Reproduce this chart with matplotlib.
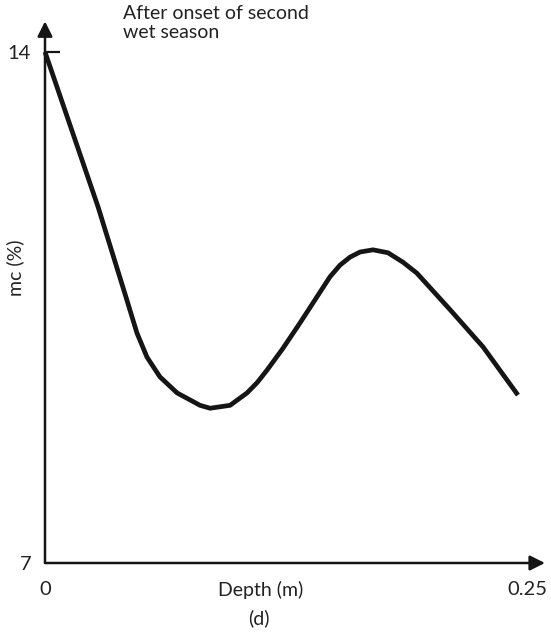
import matplotlib.pyplot as plt

# moisture content profile after onset of second wet season
depth = [0.0, 0.0275, 0.0425, 0.0477, 0.0529, 0.0596, 0.0685, 0.0804,
         0.0856, 0.0960, 0.1048, 0.1100, 0.1151, 0.1234, 0.1323, 0.1478,
         0.1530, 0.1582, 0.1634, 0.1701, 0.1779, 0.1857, 0.1929, 0.2101,
         0.2272, 0.2453]
mc = [14.0, 11.88, 10.60, 10.15, 9.82, 9.55, 9.33, 9.16,
      9.12, 9.16, 9.33, 9.47, 9.64, 9.94, 10.29, 10.92,
      11.08, 11.19, 11.26, 11.29, 11.25, 11.12, 10.97, 10.47,
      9.96, 9.30]

x_ticks = [0, 0.25]
x_labels = ['0', '0.25']
y_ticks = [7, 14]
y_labels = ['7', '14']

plt.rcParams['font.family'] = ['Lato', 'DejaVu Sans']

W, H = 551, 636
fig = plt.figure(figsize=(W / 100, H / 100), dpi=100)
ax = fig.add_axes([45 / W, (H - 563) / H, (527 - 45) / W, (563 - 52) / H])

ax.plot(depth, mc, color='#151515', lw=3.4, solid_capstyle='butt',
        solid_joinstyle='round', clip_on=False)

ax.set_xlim(0, 0.25)
ax.set_ylim(7, 14)
for s in ax.spines.values():
    s.set_visible(False)

# axis lines with arrow heads
arrow = dict(arrowstyle='-|>,head_length=0.9,head_width=0.45', color='#151515',
             lw=1.8, shrinkA=0, shrinkB=0)
ax.annotate('', xy=(0.2593, 7), xytext=(0, 7), xycoords='data',
            arrowprops=arrow, annotation_clip=False)
ax.annotate('', xy=(0, 14.42), xytext=(0, 7), xycoords='data',
            arrowprops=arrow, annotation_clip=False)

ax.set_xticks(x_ticks)
ax.set_xticklabels(x_labels)
ax.set_yticks(y_ticks)
ax.set_yticklabels(y_labels)
ax.tick_params(axis='x', length=0, pad=13, labelsize=14.5, labelcolor='#222222')
ax.tick_params(axis='y', length=0, pad=10, labelsize=14.5, labelcolor='#222222')
# short inward tick mark at the top value only
ax.yaxis.remove_overlapping_locs = False
ax.set_yticks([14], minor=True)
ax.tick_params(axis='y', which='minor', direction='in', length=11, width=1.6,
               color='#151515')

ax.text(0.112, 6.63, 'Depth (m)', ha='center', va='center', fontsize=14,
        color='#222222')
ax.text(0.111, 6.25, '(d)', ha='center', va='center', fontsize=14,
        color='#222222')
ax.text(-0.0156, 11.04, 'mc (%)', ha='center', va='center', rotation=90,
        fontsize=14, color='#222222')
ax.text(0.0404, 14.40, 'After onset of second\nwet season', ha='left',
        va='center', fontsize=14, color='#222222', linespacing=1.1)

fig.savefig('out.png', dpi=100)
